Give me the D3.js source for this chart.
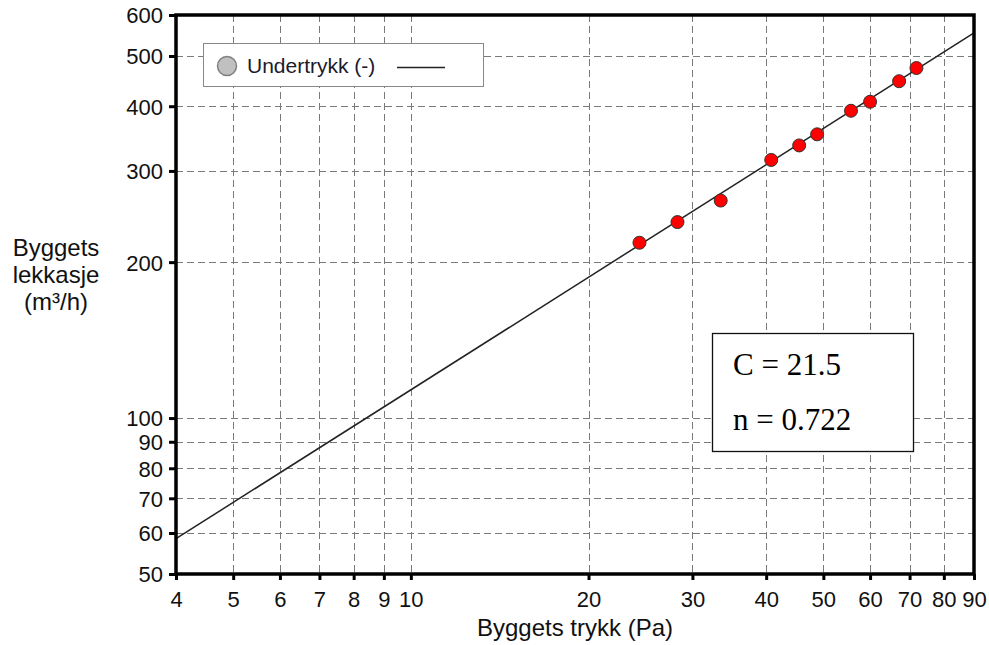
<!DOCTYPE html>
<html>
<head>
<meta charset="utf-8">
<script src="https://cdn.jsdelivr.net/npm/d3@7"></script>
<style>
    body { margin: 0; background: #fff; }
    svg { display: block; font-family: "Liberation Sans", Arial, sans-serif; }
</style>
</head>
<body>
<svg id="chart" width="989" height="645"></svg>
<script>
// measured points (pressure Pa, leakage m3/h)
const pressure = [24.4, 28.3, 33.5, 40.8, 45.5, 48.8, 55.7, 60.0, 67.2, 71.9];
const leakage = [218, 239, 263, 315, 336, 353, 392, 408, 447, 474];

// fitted line, read at the chart edges
const fitX = [4, 90];
const fitY = [58.5, 554];

const xTicks = [4, 5, 6, 7, 8, 9, 10, 20, 30, 40, 50, 60, 70, 80, 90];
const yTicks = [50, 60, 70, 80, 90, 100, 200, 300, 400, 500, 600];

const legendLabel = "Undertrykk (-)";
const fitLabels = ["C = 21.5", "n = 0.722"];

const
    svg = d3.select("#chart"),
    margin = { left: 176, right: 15, top: 15, bottom: 71 },
    W = 989, H = 645,
    x = d3.scaleLog().domain([4, 90]).range([margin.left, W - margin.right]),
    y = d3.scaleLog().domain([50, 600]).range([H - margin.bottom, margin.top]);

// grid
const grid = svg.append("g")
    .attr("stroke", "#7a7a7a")
    .attr("stroke-width", 1)
    .attr("stroke-dasharray", "7,4");

grid.selectAll(".gx")
    .data(xTicks.slice(1, -1))
    .join("line")
    .attr("x1", d => Math.round(x(d)) + 0.5)
    .attr("x2", d => Math.round(x(d)) + 0.5)
    .attr("y1", y.range()[1])
    .attr("y2", y.range()[0]);

grid.selectAll(".gy")
    .data(yTicks.slice(1, -1))
    .join("line")
    .attr("y1", d => Math.round(y(d)) + 0.5)
    .attr("y2", d => Math.round(y(d)) + 0.5)
    .attr("x1", x.range()[0])
    .attr("x2", x.range()[1]);

// axes
const xAxis = d3.axisBottom(x).tickValues(xTicks).tickSize(6).tickFormat(d3.format("d"));
const yAxis = d3.axisLeft(y).tickValues(yTicks).tickSize(7).tickFormat(d3.format("d"));

const gx = svg.append("g")
    .attr("transform", `translate(0,${y.range()[0]})`)
    .call(xAxis);
const gy = svg.append("g")
    .attr("transform", `translate(${x.range()[0]},0)`)
    .call(yAxis);

[gx, gy].forEach(g => {
    g.select(".domain").remove();
    g.selectAll(".tick line").attr("stroke", "#000").attr("stroke-width", 3);
    g.selectAll(".tick text")
        .attr("fill", "#111")
        .style("font-size", "22px")
        .style("font-family", "'Liberation Sans', Arial, sans-serif");
});
gx.selectAll(".tick text").attr("y", 33).attr("dy", null);
gy.selectAll(".tick text").attr("x", -13).attr("dy", "0.36em");

// fitted line
svg.append("line")
    .attr("x1", x(fitX[0])).attr("y1", y(fitY[0]))
    .attr("x2", x(fitX[1])).attr("y2", y(fitY[1]))
    .attr("stroke", "#222")
    .attr("stroke-width", 1.5);

// points
svg.append("g")
    .selectAll("circle")
    .data(pressure.map((p, i) => [p, leakage[i]]))
    .join("circle")
    .attr("cx", d => x(d[0]))
    .attr("cy", d => y(d[1]))
    .attr("r", 6.5)
    .attr("fill", "#ff0000")
    .attr("stroke", "#333")
    .attr("stroke-width", 1);

// frame
svg.append("rect")
    .attr("x", x.range()[0])
    .attr("y", y.range()[1])
    .attr("width", x.range()[1] - x.range()[0])
    .attr("height", y.range()[0] - y.range()[1])
    .attr("fill", "none")
    .attr("stroke", "#000")
    .attr("stroke-width", 3.5);

// legend
const legend = svg.append("g").attr("transform", "translate(203,43)");
legend.append("rect")
    .attr("x", 0.5).attr("y", 0.5)
    .attr("width", 280).attr("height", 43)
    .attr("fill", "#fff")
    .attr("stroke", "#888")
    .attr("stroke-width", 1);
legend.append("circle")
    .attr("cx", 24).attr("cy", 23).attr("r", 9.5)
    .attr("fill", "#c0c0c0")
    .attr("stroke", "#808080")
    .attr("stroke-width", 1.5);
legend.append("text")
    .attr("x", 44).attr("y", 30)
    .attr("fill", "#1a1a2a")
    .style("font-size", "21px")
    .text(legendLabel);
legend.append("line")
    .attr("x1", 194).attr("x2", 242)
    .attr("y1", 24.5).attr("y2", 24.5)
    .attr("stroke", "#222")
    .attr("stroke-width", 1.3);

// fit parameters box
const box = svg.append("g").attr("transform", "translate(712,333)");
box.append("rect")
    .attr("x", 0.5).attr("y", 0.5)
    .attr("width", 201).attr("height", 118)
    .attr("fill", "#fff")
    .attr("stroke", "#111")
    .attr("stroke-width", 1.3);
box.selectAll("text")
    .data(fitLabels)
    .join("text")
    .attr("x", 21)
    .attr("y", (d, i) => 42 + i * 55)
    .attr("fill", "#000")
    .style("font-family", "'Liberation Serif', 'Times New Roman', serif")
    .style("font-size", "31px")
    .text(d => d);

// axis titles
svg.append("text")
    .attr("x", (x.range()[0] + x.range()[1]) / 2)
    .attr("y", 636)
    .attr("text-anchor", "middle")
    .attr("fill", "#111")
    .style("font-size", "24px")
    .text("Byggets trykk (Pa)");

svg.append("text")
    .attr("text-anchor", "middle")
    .attr("fill", "#111")
    .style("font-size", "24px")
    .selectAll("tspan")
    .data(["Byggets", "lekkasje", "(m³/h)"])
    .join("tspan")
    .attr("x", 56)
    .attr("y", (d, i) => 256 + i * 27)
    .text(d => d);
</script>
</body>
</html>
